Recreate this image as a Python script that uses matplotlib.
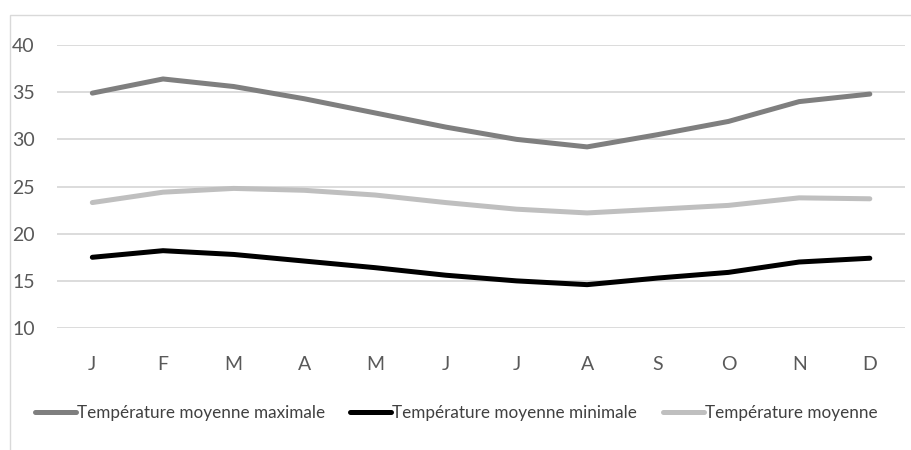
import matplotlib
matplotlib.use("Agg")
import matplotlib.pyplot as plt
from matplotlib.patches import Rectangle

months = ["J", "F", "M", "A", "M", "J", "J", "A", "S", "O", "N", "D"]
t_max = [34.9, 36.4, 35.6, 34.3, 32.8, 31.3, 30.0, 29.2, 30.5, 31.9, 34.0, 34.8]
t_min = [17.5, 18.2, 17.8, 17.1, 16.4, 15.6, 15.0, 14.6, 15.3, 15.9, 17.0, 17.4]
t_mean = [23.3, 24.4, 24.8, 24.6, 24.1, 23.3, 22.6, 22.2, 22.6, 23.0, 23.8, 23.7]
y_ticks = [10, 15, 20, 25, 30, 35, 40]

plt.rcParams["font.family"] = ["Lato", "DejaVu Sans"]

fig = plt.figure(figsize=(9.12, 4.5), dpi=100)
ax = fig.add_axes([0.0625, 0.271, 0.93, 0.629])

x = range(len(months))
series = [
    (t_max, "#7f7f7f", "Température moyenne maximale"),
    (t_min, "#000000", "Température moyenne minimale"),
    (t_mean, "#bfbfbf", "Température moyenne"),
]
for vals, col, lab in series:
    ax.plot(x, vals, color=col, lw=3.6, solid_capstyle="round",
            solid_joinstyle="round", label=lab, zorder=3)

ax.set_xlim(-0.5, len(months) - 0.5)
ax.set_ylim(10, 40)
ax.set_yticks(y_ticks)
ax.set_xticks(list(x))
ax.set_xticklabels(months)
ax.grid(axis="y", color="#d9d9d9", lw=1.3)
ax.set_axisbelow(True)
for s in ax.spines.values():
    s.set_visible(False)
ax.tick_params(length=0, labelsize=14, colors="#595959")
ax.tick_params(axis="x", pad=20)
ax.tick_params(axis="y", pad=16)

leg = fig.legend(loc="center", bbox_to_anchor=(0.5, 1 - 413 / 450), ncol=3,
                 frameon=False, fontsize=12.3, handlelength=2.4, handletextpad=0.05,
                 columnspacing=1.5)
for t in leg.get_texts():
    t.set_color("#404040")

fig.patches.append(Rectangle((10 / 912, -0.1), 1.0, 1 - 15 / 450 + 0.1,
                             transform=fig.transFigure, fill=False,
                             edgecolor="#d9d9d9", lw=1.0))

fig.savefig("out.png", dpi=100)
